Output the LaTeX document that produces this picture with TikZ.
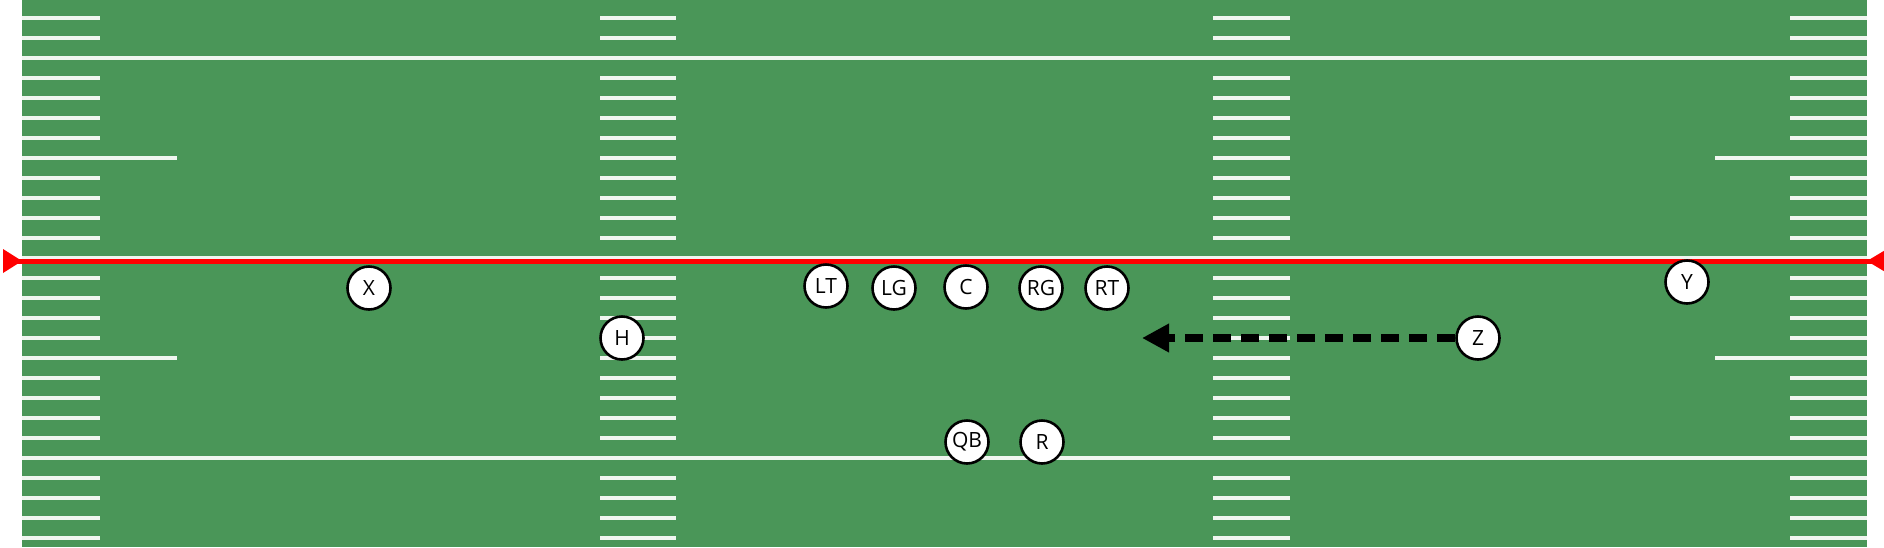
\documentclass[tikz,border=0pt]{standalone}
\usepackage{fontspec}
\setmainfont{Open Sans}
\usetikzlibrary{arrows.meta}
\definecolor{turf}{RGB}{74,150,88}
\definecolor{chalk}{RGB}{240,246,240}
\begin{document}
\begin{tikzpicture}[x=1pt,y=-1pt,
  player/.style={circle, draw=black, line width=2.6pt, fill=white, minimum size=43pt, inner sep=0pt, font=\fontsize{21}{24}\selectfont},
  hash/.style={draw=chalk, line width=3.6pt},
  yardline/.style={draw=chalk, line width=4.5pt},
  scrimmage/.style={draw=red, line width=5pt},
  route/.style={draw=black, line width=8pt, dash pattern=on 18pt off 10pt, -{Triangle[length=27pt,width=27pt]}}
]
\useasboundingbox (0,0) rectangle (1884,547);
\clip (0,0) rectangle (1884,547);
\fill[turf] (0,0) rectangle (1884,547);
\fill[white] (0,0) rectangle (22,547);
\fill[white] (1867,0) rectangle (1884,547);
\foreach \k in {0,...,27}{
  \pgfmathtruncatemacro\m{mod(\k,10)}
  \pgfmathsetmacro\yy{-2+20*\k}
  \ifnum\m=3
    \draw[yardline] (22,\yy) -- (1867,\yy);
  \else
    \ifnum\m=8
      \draw[hash] (22,\yy) -- (177,\yy);
      \draw[hash] (1715,\yy) -- (1867,\yy);
    \else
      \draw[hash] (22,\yy) -- (100,\yy);
      \draw[hash] (1790,\yy) -- (1867,\yy);
    \fi
    \draw[hash] (600,\yy) -- (676,\yy);
    \draw[hash] (1213,\yy) -- (1290,\yy);
  \fi
}
% line of scrimmage
\coordinate (losL) at (3,261);
\coordinate (losR) at (1884,261);
\draw[scrimmage] (losL) -- (losR);
\fill[red] (3,249) -- (22,261) -- (3,273) -- cycle;
\fill[red] (1887,249) -- (1867,261) -- (1887,273) -- cycle;
% players
\node[player] (X)  at (369,288) {X};
\node[player] (H)  at (622,338) {H};
\node[player] (LT) at (826,286) {LT};
\node[player] (LG) at (894,288) {LG};
\node[player] (C)  at (966,287) {C};
\node[player] (RG) at (1041,288) {RG};
\node[player] (RT) at (1107,288) {RT};
\node[player] (QB) at (967,442) {QB};
\node[player] (R)  at (1042,442) {R};
\node[player] (Z)  at (1478,338) {Z};
\node[player] (Y)  at (1687,282) {Y};
% motion
\coordinate (zt) at (1142,338);
\draw[route] (Z) -- (zt);
\end{tikzpicture}
\end{document}
